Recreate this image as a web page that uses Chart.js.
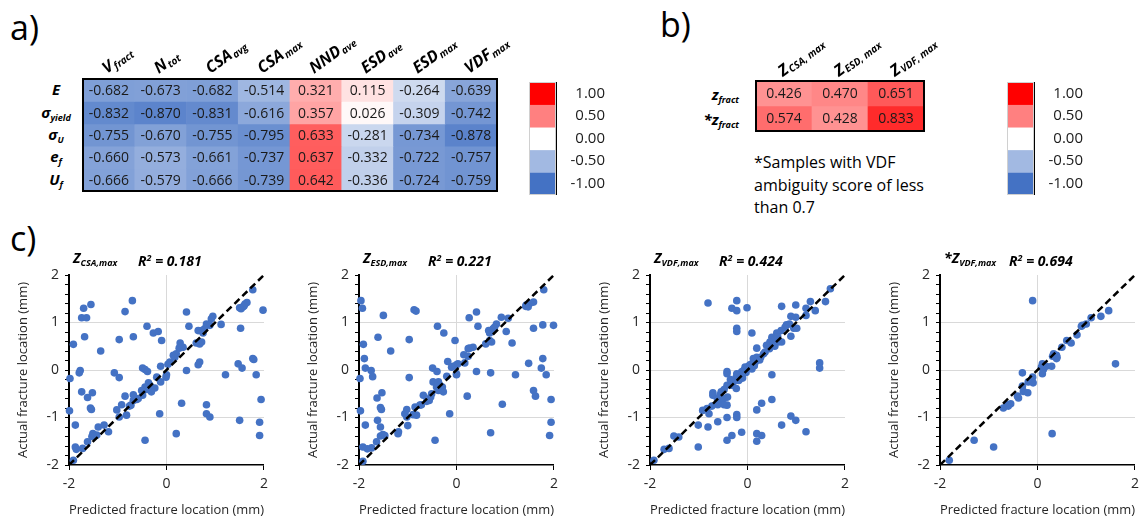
<!DOCTYPE html>
<html>
<head>
<meta charset="utf-8">
<script src="https://cdn.jsdelivr.net/npm/chart.js@4.4.1/dist/chart.umd.min.js"></script>
<style>
  body { margin: 0; background: #fff; overflow: hidden; }
  #fig { position: relative; width: 1144px; height: 520px; overflow: hidden; font-family: "Open Sans", sans-serif; color: #000; }
  canvas { position: absolute; }
  .lbl { position: absolute; white-space: nowrap; line-height: 1; }
  .panel { font-size: 34px; }
  .rowl sub, .ttl sub { font-size: 9px; vertical-align: -3px; }
  .rowl { font: italic bold 15px "Open Sans", sans-serif; line-height: 16px; }
  .ttl { font: italic bold 14px "Open Sans", sans-serif; line-height: 18px; }
  .ttl sup { font-size: 9px; vertical-align: 5px; }
  .note { font-size: 16px; line-height: 22.5px; }
</style>
</head>
<body>
<div id="fig">
  <div class="lbl panel" style="left:10px;top:10px;">a)</div>
  <div class="lbl panel" style="left:660px;top:7px;">b)</div>
  <div class="lbl panel" style="left:10px;top:221px;">c)</div>

  <canvas id="heatA" width="460" height="172" style="left:82px;top:20px;"></canvas>
  <canvas id="barA" width="76" height="113" style="left:529px;top:82px;"></canvas>
  <canvas id="heatB" width="220" height="112" style="left:755px;top:20px;"></canvas>
  <canvas id="barB" width="76" height="113" style="left:1007px;top:82px;"></canvas>

  <div class="lbl note" style="left:754px;top:151px;">*Samples with VDF<br>ambiguity score of less<br>than 0.7</div>

  <canvas id="sc1" width="274" height="280" style="left:0px;top:240px;"></canvas>
  <canvas id="sc2" width="274" height="280" style="left:290px;top:240px;"></canvas>
  <canvas id="sc3" width="274" height="280" style="left:581px;top:240px;"></canvas>
  <canvas id="sc4" width="274" height="280" style="left:871px;top:240px;"></canvas>
</div>

<script>
// ---- heatmap a) ----
const heatColA = [['V', 'fract'], ['N', 'tot'], ['CSA', 'avg'], ['CSA', 'max'], ['NND', 'ave'], ['ESD', 'ave'], ['ESD', 'max'], ['VDF', 'max']];
const heatRowA = [['E', ''], ['σ', 'yield'], ['σ', 'U'], ['e', 'f'], ['U', 'f']];
const heatValA = [
  [-0.682, -0.673, -0.682, -0.514, 0.321, 0.115, -0.264, -0.639],
  [-0.832, -0.870, -0.831, -0.616, 0.357, 0.026, -0.309, -0.742],
  [-0.755, -0.670, -0.755, -0.795, 0.633, -0.281, -0.734, -0.878],
  [-0.660, -0.573, -0.661, -0.737, 0.637, -0.332, -0.722, -0.757],
  [-0.666, -0.579, -0.666, -0.739, 0.642, -0.336, -0.724, -0.759]
];

// ---- heatmap b) ----
const heatColB = [['Z', 'CSA, max'], ['Z', 'ESD, max'], ['Z', 'VDF, max']];
const heatRowB = [['z', 'fract'], ['*z', 'fract']];
const heatValB = [
  [0.426, 0.470, 0.651],
  [0.574, 0.428, 0.833]
];

// colour scale legend
const scaleSteps = [1, 0.5, 0, -0.5, -1];
const scaleLabels = ['1.00', '0.50', '0.00', '-0.50', '-1.00'];

// ---- scatter panels c) : predicted (x) vs actual (y), mm ----
const csaPred = [1.77, 1.98, 1.57, 1.53, 1.65, 1.61, 1.59, 1.50, -0.70, -1.55, -1.70, -1.74, -1.64, -0.85, 0.41, 0.95, 0.92, 1.12, 0.82, 0.89,
  0.78, 0.75, 0.72, 0.65, 0.46, -0.40, 1.52, -0.27, -0.17, -0.68, -1.68, -0.97, -0.10, -1.91, 0.28, 0.34, 0.26, 0.61, 0.72, 0.68,
  -1.35, 0.14, 0.17, 0.20, 1.77, 1.79, 0.68, 0.65, 1.47, 0.03, 0.07, -0.12, 1.55, -0.49, -0.44, -0.39, -1.77, -1.79, -1.07, 0.41,
  0.00, -0.01, 1.21, 1.84, -1.98, -0.97, -0.20, -0.12, -0.37, -0.34, -0.40, -0.29, -0.24, -0.31, -0.44, -0.41, -0.51, -0.49, -0.58, -0.61,
  -0.68, -0.73, -0.76, -0.68, -0.85, -0.92, -1.74, -1.52, -1.62, -1.56, -1.54, -1.02, -0.97, -0.82, -0.14, 0.31, 0.82, 0.82, 0.89, 1.50,
  1.94, 1.91, 1.91, 0.20, -0.44, -1.99, -1.87, -1.40, -1.28, -1.19, -1.51, -1.46, -1.53, -1.43, -1.62, -1.72, -1.87, -1.85, -1.91];
const csaActual = [1.69, 1.26, 1.33, 1.29, 1.42, 1.39, 1.35, 1.31, 1.46, 1.38, 1.30, 1.10, 1.10, 1.23, 1.22, 1.13, 1.08, 0.96, 0.97, 0.94,
  0.87, 0.78, 0.83, 0.83, 0.92, 0.92, 0.88, 0.78, 0.81, 0.70, 0.70, 0.64, 0.62, 0.54, 0.57, 0.48, 0.46, 0.57, 0.59, 0.55,
  0.40, 0.31, 0.27, 0.34, 0.24, 0.22, 0.17, 0.11, 0.13, 0.12, 0.17, 0.08, 0.04, 0.04, 0.01, -0.03, -0.01, -0.06, -0.06, -0.01,
  -0.10, -0.15, -0.10, -0.10, -0.18, -0.16, -0.15, -0.25, -0.27, -0.32, -0.36, -0.39, -0.38, -0.46, -0.36, -0.41, -0.43, -0.53, -0.60, -0.62,
  -0.64, -0.74, -0.76, -0.52, -0.55, -0.73, -0.46, -0.48, -0.58, -0.80, -0.83, -0.84, -0.99, -0.95, -0.92, -0.70, -0.73, -0.92, -0.99, -1.06,
  -0.62, -1.10, -1.38, -1.34, -1.48, -0.86, -1.16, -1.20, -1.16, -1.30, -1.34, -1.38, -1.40, -1.37, -1.51, -1.65, -1.62, -1.67, -1.90];

const esdPred = [-1.96, -1.93, -1.50, -0.87, -0.83, 0.41, 0.26, 1.79, 1.43, 1.47, 1.50, 1.58, 1.42, 0.92, 1.06, 0.82, 0.78, 0.72, 0.68, 0.75,
  0.66, 0.44, -0.39, 1.02, 1.58, 1.77, 1.99, -0.26, -1.61, -0.97, -0.03, -1.91, 0.27, 0.34, 0.24, 0.60, 0.72, 0.68, 1.14, -1.35,
  0.15, 0.24, 1.77, -1.89, -0.18, 0.03, 0.00, -0.07, -0.10, 0.17, 1.48, -1.87, -1.75, -0.49, -0.40, 1.74, 0.41, 0.00, 0.00, 0.70,
  1.21, 1.84, -1.72, -1.98, -0.97, -0.20, -0.48, -0.37, -0.34, -0.41, -0.29, -0.31, -0.37, -0.27, -0.51, -0.53, -0.56, -0.68, -0.61, -0.72,
  -0.75, -0.85, -0.89, -0.82, -1.02, -1.53, -1.63, -1.56, -1.54, -1.97, -1.62, -1.56, -1.87, -1.19, -1.20, -1.47, -1.56, -1.51, -1.64, -1.74,
  -1.83, -1.92, -1.92, -1.00, -1.06, -1.02, -0.14, 0.22, 0.70, 0.94, 1.58, 1.62, 1.94, 1.94, 1.91, -0.44];
const esdActual = [1.46, 1.30, 1.15, 1.27, 1.24, 1.22, 1.10, 1.69, 1.37, 1.33, 1.40, 1.43, 1.34, 1.11, 1.09, 0.97, 0.90, 0.83, 0.78, 0.87,
  0.83, 0.92, 0.92, 0.81, 0.88, 0.95, 0.94, 0.78, 0.69, 0.64, 0.62, 0.54, 0.46, 0.48, 0.45, 0.55, 0.59, 0.62, 0.57, 0.40,
  0.32, 0.29, 0.24, 0.24, 0.18, 0.13, 0.11, 0.08, 0.06, 0.15, 0.14, 0.04, -0.01, 0.04, -0.03, 0.04, -0.03, -0.08, -0.10, -0.06,
  -0.10, -0.10, -0.14, -0.18, -0.16, -0.13, -0.25, -0.25, -0.32, -0.36, -0.36, -0.41, -0.43, -0.46, -0.50, -0.57, -0.64, -0.53, -0.66, -0.73,
  -0.74, -0.78, -0.94, -0.95, -0.83, -0.48, -0.59, -0.79, -0.83, -0.86, -1.06, -1.20, -1.16, -1.30, -1.34, -1.38, -1.39, -1.36, -1.51, -1.64,
  -1.66, -1.62, -1.92, -1.17, -0.92, -0.99, -0.92, -0.55, -1.32, -0.72, -0.43, -0.55, -0.62, -1.10, -1.38, -1.48];

const vdfPred = [1.70, 1.29, 1.60, 0.99, 0.70, -0.81, -0.22, -0.32, -0.22, -0.01, 1.20, 1.39, 0.89, 0.99, 1.20, 0.80, 0.86, 0.77, 0.69, 0.60,
  1.01, 0.89, 0.50, 0.56, 0.63, 0.70, 0.46, 0.52, 0.39, -0.22, -0.22, 0.09, 0.19, 0.33, 0.27, 0.19, 0.12, 0.16, 0.09, 0.05,
  0.02, -0.05, -0.08, -0.01, -0.12, -0.15, -0.22, -0.23, -0.10, -0.18, -0.29, -0.23, -0.32, -0.42, -0.48, -0.54, -0.62, -0.71, -0.71, -0.59,
  -0.49, -0.41, -0.48, 1.48, 1.48, -0.42, -0.42, 0.50, -0.61, -0.92, -0.83, -0.79, -0.73, -0.42, 0.50, 0.29, 0.19, -0.22, -0.22, -0.42,
  -0.61, -1.01, -0.81, 0.70, 0.89, 0.99, 1.20, -0.12, -0.32, -0.42, 0.19, 0.29, 0.19, -1.01, -1.51, -1.41, -1.61, -1.71, -1.92,
  0.25, 0.09, -0.03, 0.14, 0.36, 0.45, 0.56, -0.35, -0.56, 0.62, 0.95];
const vdfActual = [1.71, 1.44, 1.44, 1.37, 1.34, 1.41, 1.46, 1.30, 1.25, 1.31, 1.30, 1.25, 1.13, 1.11, 1.15, 0.95, 0.97, 0.90, 0.83, 0.78,
  0.88, 0.71, 0.69, 0.64, 0.59, 0.59, 0.59, 0.55, 0.52, 0.88, 0.81, 0.78, 0.46, 0.34, 0.27, 0.27, 0.24, 0.17, 0.13, 0.11,
  0.08, 0.06, -0.01, 0.03, -0.04, -0.08, -0.08, -0.15, -0.17, -0.22, -0.25, -0.39, -0.32, -0.32, -0.41, -0.46, -0.60, -0.48, -0.53, -0.67,
  -0.60, -0.57, -0.73, 0.15, 0.04, -0.03, -0.08, -0.10, -0.73, -0.85, -0.81, -0.92, -0.76, -0.74, -0.62, -0.70, -0.84, -0.94, -1.00, -1.00,
  -1.09, -1.16, -1.20, -1.16, -0.97, -1.06, -1.30, -1.31, -1.38, -1.48, -1.34, -1.38, -1.50, -1.62, -1.39, -1.41, -1.65, -1.67, -1.90,
  0.21, 0.02, -0.05, 0.09, 0.38, 0.45, 0.50, -0.20, -0.52, 0.70, 0.88];

const vdfSubPred = [-0.10, 1.46, 1.30, 1.10, 1.00, 0.92, 0.90, 0.81, 0.60, 0.69, 0.50, 0.39, 0.31, 0.39, 0.40, 0.33, 1.60, 0.10, 0.08, 0.18,
  0.29, 0.12, 0.10, -0.31, -0.10, -0.12, -0.19, -0.09, -0.31, -0.29, -0.20, -0.41, -0.39, -0.55, -0.60, -0.70, -0.62, 0.30, -1.30, -0.90, -1.81];
const vdfSubActual = [1.46, 1.25, 1.13, 1.10, 0.97, 0.94, 0.92, 0.74, 0.62, 0.57, 0.48, 0.31, 0.29, 0.24, 0.27, 0.34, 0.13, 0.13, 0.06, 0.08,
  0.08, 0.01, -0.08, -0.06, -0.15, -0.22, -0.25, -0.27, -0.34, -0.45, -0.48, -0.55, -0.59, -0.71, -0.76, -0.80, -0.73, -1.34, -1.48, -1.62, -1.90];

// 1:1 reference line
const diagX = [-2, 2];
const diagY = [-2, 2];

const panels = [
  { id: 'sc1', name: ['Z', 'CSA,max'], r2: '0.181', xs: csaPred, ys: csaActual, left: 69 },
  { id: 'sc2', name: ['Z', 'ESD,max'], r2: '0.221', xs: esdPred, ys: esdActual, left: 359 },
  { id: 'sc3', name: ['Z', 'VDF,max'], r2: '0.424', xs: vdfPred, ys: vdfActual, left: 650 },
  { id: 'sc4', name: ['*Z', 'VDF,max'], r2: '0.694', xs: vdfSubPred, ys: vdfSubActual, left: 940 }
];

Chart.defaults.font.family = '"Open Sans", sans-serif';
const fig = document.getElementById('fig');

function addLabel(cls, html, style) {
  const d = document.createElement('div');
  d.className = 'lbl ' + cls;
  d.innerHTML = html;
  Object.assign(d.style, style);
  fig.appendChild(d);
  return d;
}

// white -> red for positive, white -> blue for negative
function heatColor(v) {
  const t = Math.min(1, Math.abs(v));
  const end = v >= 0 ? [255, 0, 0] : [68, 114, 196];
  const c = end.map(k => Math.round(255 + (k - 255) * t));
  return `rgb(${c.join(',')})`;
}

// write the value in the middle of each cell
const cellText = {
  id: 'cellText',
  afterDatasetsDraw(chart) {
    const ctx = chart.ctx;
    ctx.save();
    ctx.font = '14px "Open Sans", sans-serif';
    ctx.fillStyle = '#1a1a1a';
    ctx.textAlign = 'center';
    ctx.textBaseline = 'middle';
    chart.data.datasets.forEach((ds, di) => {
      chart.getDatasetMeta(di).data.forEach((bar, i) => {
        ctx.fillText(ds.values[i].toFixed(3), bar.x, (bar.y + bar.base) / 2 + 1);
      });
    });
    ctx.restore();
  }
};

// slanted column headers (main text + subscript) above each column
const colHeaders = {
  id: 'colHeaders',
  afterDraw(chart, args, opts) {
    const ctx = chart.ctx;
    const top = chart.chartArea.top;
    ctx.save();
    ctx.fillStyle = '#000';
    ctx.textBaseline = 'alphabetic';
    chart.getDatasetMeta(0).data.forEach((bar, i) => {
      const [main, sub] = opts.labels[i];
      ctx.save();
      ctx.translate(bar.x - bar.width / 2 + opts.offset, top - opts.gap);
      ctx.rotate(-opts.angle * Math.PI / 180);
      ctx.font = 'italic bold 16px "Open Sans", sans-serif';
      ctx.fillText(main, 0, 0);
      const w = ctx.measureText(main).width;
      ctx.font = 'italic bold 10px "Open Sans", sans-serif';
      ctx.fillText(sub, w + 1, 2);
      ctx.restore();
    });
    ctx.restore();
  }
};

// black frame round the table
const frame = {
  id: 'frame',
  afterDraw(chart) {
    const a = chart.chartArea, ctx = chart.ctx;
    ctx.save();
    ctx.strokeStyle = '#000';
    ctx.lineWidth = 2;
    ctx.strokeRect(a.left, a.top, a.right - a.left, a.bottom - a.top);
    ctx.restore();
  }
};

function makeHeat(id, cols, vals, pad, hdr) {
  return new Chart(document.getElementById(id), {
    type: 'bar',
    data: {
      labels: cols.map(c => c.join(' ')),
      datasets: vals.map((row, r) => ({
        data: row.map(() => [r, r + 1]),
        values: row,
        backgroundColor: row.map(heatColor),
        borderWidth: 0,
        grouped: false,
        barPercentage: 1,
        categoryPercentage: 1
      }))
    },
    options: {
      responsive: false,
      animation: false,
      layout: { padding: pad },
      plugins: {
        legend: { display: false }, tooltip: { enabled: false },
        colHeaders: Object.assign({ labels: cols }, hdr)
      },
      scales: {
        x: { display: false },
        y: { display: false, min: 0, max: vals.length, reverse: true }
      }
    },
    plugins: [cellText, frame, colHeaders]
  });
}

// faint outline of the colour key
const keyOutline = {
  id: 'keyOutline',
  afterDatasetsDraw(chart) {
    const a = chart.chartArea, ctx = chart.ctx;
    ctx.save();
    ctx.strokeStyle = '#d0d0d0';
    ctx.lineWidth = 1;
    ctx.strokeRect(a.left + 0.5, a.top + 0.5, a.right - a.left - 1, a.bottom - a.top - 1);
    ctx.restore();
  }
};

function makeColorBar(id) {
  return new Chart(document.getElementById(id), {
    type: 'bar',
    data: {
      labels: [''],
      datasets: scaleSteps.map((s, i) => ({
        data: [[i, i + 1]],
        backgroundColor: heatColor(s),
        borderWidth: 0,
        grouped: false,
        barPercentage: 1,
        categoryPercentage: 1
      }))
    },
    options: {
      responsive: false,
      animation: false,
      layout: { padding: 0 },
      plugins: { legend: { display: false }, tooltip: { enabled: false } },
      scales: {
        x: { display: false },
        y: {
          position: 'right', min: 0, max: scaleSteps.length, reverse: true,
          afterBuildTicks: sc => { sc.ticks = scaleLabels.map((l, i) => ({ value: i + 0.5 })); },
          afterFit: sc => { sc.width = 49; sc.paddingTop = 0; sc.paddingBottom = 0; },
          ticks: {
            callback: (v, i) => scaleLabels[i],
            crossAlign: 'far',
            padding: 12,
            color: '#1a1a1a',
            font: { size: 15 }
          },
          grid: { display: false, drawTicks: false },
          border: { display: true, color: '#000', width: 2 }
        }
      }
    },
    plugins: [keyOutline]
  });
}

makeHeat('heatA', heatColA, heatValA, { left: 1, top: 59, right: 45, bottom: 1 }, { angle: 36, offset: 24, gap: 5 });
makeHeat('heatB', heatColB, heatValB, { left: 1, top: 61, right: 51, bottom: 1 }, { angle: 37, offset: 27, gap: 4 });
makeColorBar('barA');
makeColorBar('barB');

// row labels
const cellHA = 112 / heatRowA.length;
heatRowA.forEach((r, i) => {
  const d = addLabel('rowl', `${r[0]}<sub>${r[1]}</sub>`, { top: (79 + (i + 0.5) * cellHA - 9) + 'px', left: '56px' });
  d.style.transform = 'translateX(-50%)';
});
const cellHB = 50 / heatRowB.length;
heatRowB.forEach((r, i) => {
  const d = addLabel('rowl', `${r[0]}<sub>${r[1]}</sub>`, { top: (81 + (i + 0.5) * cellHB - 8) + 'px', left: '739px' });
  d.style.transform = 'translateX(-100%)';
});

const isWhole = v => Math.abs(v - Math.round(v)) < 1e-6;
const tickFont = { size: 14 };

function makeScatter(p) {
  addLabel('ttl', `${p.name[0]}<sub>${p.name[1]}</sub>`, { left: (p.left + 4) + 'px', top: '249px' });
  addLabel('ttl', `R<sup>2</sup> = ${p.r2}`, { left: (p.left + 69) + 'px', top: '249px' });
  return new Chart(document.getElementById(p.id), {
    type: 'scatter',
    data: {
      datasets: [
        {
          data: diagX.map((x, i) => ({ x, y: diagY[i] })),
          showLine: true,
          borderColor: '#000',
          borderWidth: 2.5,
          borderDash: [7, 4],
          pointRadius: 0,
          order: 0
        },
        {
          data: p.xs.map((x, i) => ({ x, y: p.ys[i] })),
          backgroundColor: '#4472C4',
          borderWidth: 0,
          pointRadius: 3.8,
          clip: false,
          order: 1
        }
      ]
    },
    options: {
      responsive: false,
      animation: false,
      layout: { padding: { top: 35, right: 8, left: 0, bottom: 0 } },
      plugins: { legend: { display: false }, tooltip: { enabled: false } },
      scales: {
        x: {
          type: 'linear', min: -2, max: 2,
          afterFit: s => { s.height = 55; },
          ticks: { stepSize: 2, color: '#262626', font: tickFont, padding: 6 },
          grid: {
            color: c => (c.tick && c.tick.value === 0) ? '#d9d9d9' : 'rgba(0,0,0,0)',
            tickColor: '#000', tickLength: 5
          },
          border: { color: '#000', width: 1.5 },
          title: {
            display: true, text: 'Predicted fracture location (mm)', color: '#262626',
            font: { size: 13 }, padding: { top: 0, bottom: 2 }
          }
        },
        y: {
          min: -2, max: 2,
          afterFit: s => { s.width = 69; },
          ticks: {
            stepSize: 0.2, autoSkip: false, color: '#262626', font: tickFont, padding: 6,
            callback: v => isWhole(v) ? String(Math.round(v)) : ''
          },
          grid: {
            color: c => (c.tick && isWhole(c.tick.value) && Math.abs(c.tick.value) < 1.5) ? '#d9d9d9' : 'rgba(0,0,0,0)',
            tickColor: '#000', tickLength: 4
          },
          border: { color: '#000', width: 2 },
          title: {
            display: true, text: 'Actual fracture location (mm)', color: '#262626',
            font: { size: 13 }, padding: { top: 15, bottom: 0 }
          }
        }
      }
    }
  });
}

panels.forEach(makeScatter);
</script>
</body>
</html>
